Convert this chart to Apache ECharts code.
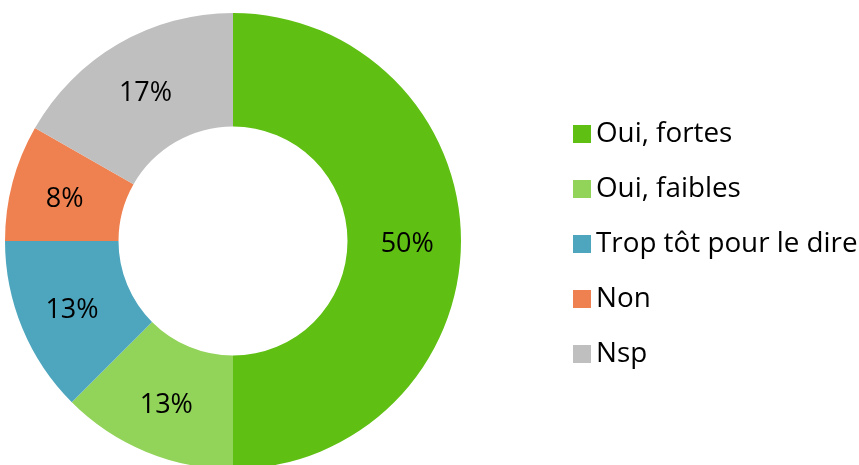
<!DOCTYPE html>
<html>
<head>
<meta charset="utf-8">
<script src="https://cdn.jsdelivr.net/npm/echarts@6/dist/echarts.min.js"></script>
<style>html,body{margin:0;padding:0;background:#fff;}#c{width:859px;height:465px;}</style>
</head>
<body>
<div id="c"></div>
<script>
const categories = ['Oui, fortes', 'Oui, faibles', 'Trop tôt pour le dire', 'Non', 'Nsp'];
const values = [50, 12.5, 12.5, 8.25, 16.75];
const labels = ['50%', '13%', '13%', '8%', '17%'];
const colors = ['#5fbf12', '#92d35a', '#4ea6be', '#ef8150', '#bfbfbf'];

const chart = echarts.init(document.getElementById('c'), null, {renderer: 'canvas'});
chart.setOption({
  animation: false,
  color: colors,
  legend: {
    orient: 'vertical',
    left: 568,
    top: 114,
    itemWidth: 18,
    itemHeight: 18,
    itemGap: 25,
    icon: 'rect',
    textStyle: {fontFamily: 'Open Sans', fontSize: 27.8, color: '#000', lineHeight: 30, padding: [0, 0, 0, 0]},
    data: categories
  },
  series: [{
    type: 'pie',
    center: [233, 241],
    radius: [114.5, 228],
    startAngle: 90,
    clockwise: true,
    avoidLabelOverlap: false,
    label: {
      show: true,
      position: 'inside',
      fontFamily: 'Open Sans',
      fontSize: 27,
      color: '#000',
      offset: [0, 3],
      formatter: p => labels[p.dataIndex]
    },
    labelLine: {show: false},
    emphasis: {disabled: true},
    data: categories.map((n, i) => ({name: n, value: values[i]}))
  }]
});
</script>
</body>
</html>
